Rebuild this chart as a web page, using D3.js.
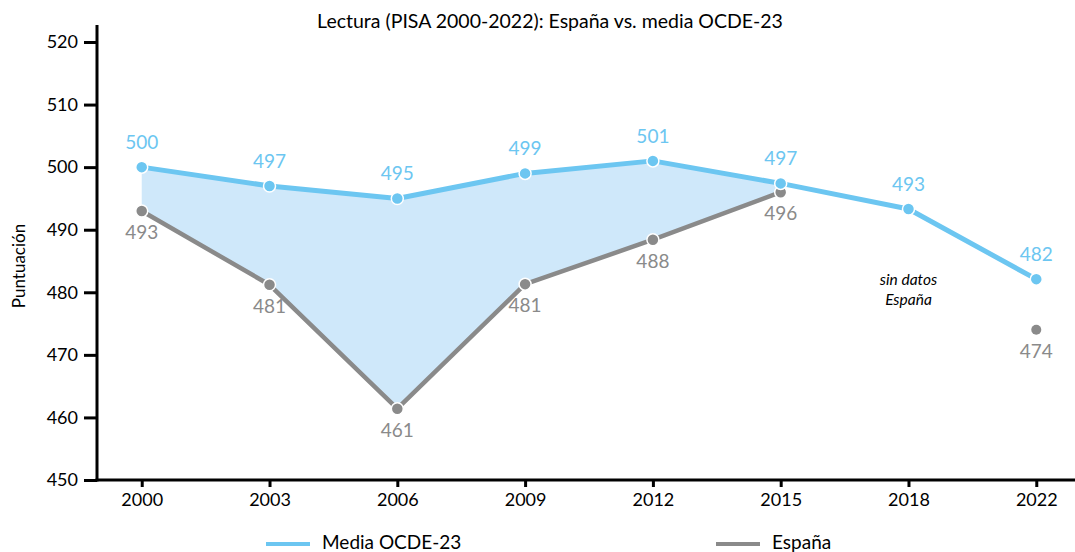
<!DOCTYPE html>
<html>
<head>
<meta charset="utf-8">
<script src="https://cdn.jsdelivr.net/npm/d3@7"></script>
<style>
  html, body { margin: 0; padding: 0; background: #fff; }
  svg { display: block; font-family: "Lato", "Liberation Sans", sans-serif; }
</style>
</head>
<body>
<svg id="chart" width="1075" height="552"></svg>
<script>
// ---- data ----
const years = ["2000", "2003", "2006", "2009", "2012", "2015", "2018", "2022"];
const ocde = [500, 497, 495, 499, 501, 497.4, 493.3, 482.1];
const ocdeLabels = ["500", "497", "495", "499", "501", "497", "493", "482"];
const espana = [493, 481.2, 461.4, 481.3, 488.4, 496, null, 474];
const espanaLabels = ["493", "481", "461", "481", "488", "496", "", "474"];
const yTicks = [450, 460, 470, 480, 490, 500, 510, 520];
const title = "Lectura (PISA 2000-2022): España vs. media OCDE-23";
const yTitle = "Puntuación";
const legendNames = ["Media OCDE-23", "España"];
const noteLines = ["sin datos", "España"];

// ---- styles ----
const blue = "#6cc6f1";
const grey = "#8a8a8a";
const fillBlue = "#cfe8fa";

const svg = d3.select("#chart");
const x = d3.scalePoint().domain(years).range([97, 1081]).padding(0.35);
const y = d3.scaleLinear().domain([450, 520]).range([480, 42]);

// fill between (2000-2015)
const gapIdx = d3.range(0, 6);
const area = d3.area()
  .x(i => x(years[i]))
  .y0(i => y(espana[i]))
  .y1(i => y(ocde[i]));
svg.append("path").datum(gapIdx).attr("d", area).attr("fill", fillBlue);

// axes
const yAxis = d3.axisLeft(y).tickValues(yTicks).tickSize(13).tickSizeOuter(0).tickPadding(6);
const gy = svg.append("g").attr("transform", "translate(97,0)").call(yAxis);
gy.select(".domain").remove();
gy.selectAll(".tick line").attr("stroke", "#000").attr("stroke-width", 3);
gy.selectAll(".tick text").attr("font-size", 18).attr("fill", "#000").style("font-family", "Lato");
svg.append("line").attr("x1", 97).attr("x2", 97).attr("y1", 25).attr("y2", y(450) + 1.5)
  .attr("stroke", "#000").attr("stroke-width", 3);

const xAxis = d3.axisBottom(x).tickSize(7).tickSizeOuter(0).tickPadding(6);
const gx = svg.append("g").attr("transform", `translate(0,${y(450)})`).call(xAxis);
gx.select(".domain").remove();
gx.selectAll(".tick line").attr("stroke", "#000").attr("stroke-width", 3);
gx.selectAll(".tick text").attr("font-size", 18).attr("fill", "#000").style("font-family", "Lato");
svg.append("line").attr("x1", 95.5).attr("x2", 1075).attr("y1", y(450)).attr("y2", y(450))
  .attr("stroke", "#000").attr("stroke-width", 3);

// lines
const line = d3.line().defined(d => d.v != null).x(d => x(d.k)).y(d => y(d.v));
const ocdeData = years.map((k, i) => ({ k, v: ocde[i] }));
const espData = years.map((k, i) => ({ k, v: espana[i] })).slice(0, 6);
svg.append("path").datum(espData).attr("d", line).attr("fill", "none")
  .attr("stroke", grey).attr("stroke-width", 4.5).attr("stroke-linejoin", "round");
svg.append("path").datum(ocdeData).attr("d", line).attr("fill", "none")
  .attr("stroke", blue).attr("stroke-width", 5).attr("stroke-linejoin", "round");

// markers
svg.append("g").selectAll("circle").data(espData).join("circle")
  .attr("cx", d => x(d.k)).attr("cy", d => y(d.v)).attr("r", 6)
  .attr("fill", grey).attr("stroke", "#fff").attr("stroke-width", 1.5);
svg.append("circle").attr("cx", x("2022")).attr("cy", y(espana[7])).attr("r", 5).attr("fill", grey);
svg.append("g").selectAll("circle").data(ocdeData).join("circle")
  .attr("cx", d => x(d.k)).attr("cy", d => y(d.v)).attr("r", 6)
  .attr("fill", blue).attr("stroke", "#fff").attr("stroke-width", 1.5);

// data labels
svg.append("g").selectAll("text").data(ocdeData).join("text")
  .attr("x", d => x(d.k)).attr("y", d => y(d.v) - 18)
  .attr("text-anchor", "middle").attr("font-size", 19).attr("fill", blue)
  .text((d, i) => ocdeLabels[i]);
svg.append("g").selectAll("text").data(years.map((k, i) => ({ k, v: espana[i], l: espanaLabels[i] })).filter(d => d.v != null))
  .join("text")
  .attr("x", d => x(d.k)).attr("y", d => y(d.v) + 28)
  .attr("text-anchor", "middle").attr("font-size", 19).attr("fill", grey)
  .text(d => d.l);

// note
svg.append("g").selectAll("text").data(noteLines).join("text")
  .attr("x", x("2018")).attr("y", (d, i) => 285 + i * 20)
  .attr("text-anchor", "middle").attr("font-size", 15.5).attr("font-style", "italic").attr("fill", "#000")
  .text(d => d);

// title
svg.append("text").attr("x", 550).attr("y", 28).attr("text-anchor", "middle")
  .attr("font-size", 19.5).attr("fill", "#000").text(title);

// y title
svg.append("text").attr("transform", "translate(25,266) rotate(-90)")
  .attr("text-anchor", "middle").attr("font-size", 17).attr("fill", "#000").text(yTitle);

// legend
const legendX = [266, 716];
const legendColors = [blue, grey];
const lg = svg.append("g").selectAll("g").data(legendNames).join("g")
  .attr("transform", (d, i) => `translate(${legendX[i]},544)`);
lg.append("line").attr("x1", 0).attr("x2", 44).attr("y1", 0).attr("y2", 0)
  .attr("stroke", (d, i) => legendColors[i]).attr("stroke-width", 4);
lg.append("text").attr("x", 56).attr("y", 5).attr("font-size", 19).attr("fill", "#000").text(d => d);
</script>
</body>
</html>
